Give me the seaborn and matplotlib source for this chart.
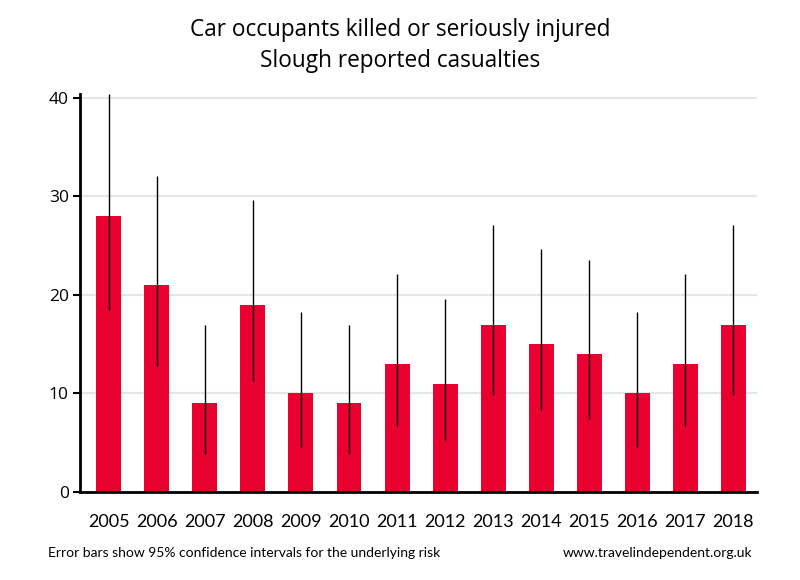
import seaborn as sns
import matplotlib.pyplot as plt
import pandas as pd

years = ['2005', '2006', '2007', '2008', '2009', '2010', '2011',
         '2012', '2013', '2014', '2015', '2016', '2017', '2018']
casualties = [28, 21, 9, 19, 10, 9, 13, 11, 17, 15, 14, 10, 13, 17]
ci_low = [18.5, 12.8, 3.9, 11.3, 4.6, 3.9, 6.7, 5.3, 9.8, 8.3, 7.4, 4.6, 6.7, 9.8]
ci_high = [40.4, 32.1, 17.0, 29.6, 18.3, 17.0, 22.1, 19.6, 27.1, 24.7, 23.5, 18.3, 22.1, 27.1]

df = pd.DataFrame({'Year': years, 'KSI': casualties})

sns.set_style('white')
plt.rcParams['font.family'] = ['Open Sans', 'DejaVu Sans']
plt.rcParams['text.color'] = 'black'
plt.rcParams['xtick.color'] = 'black'
plt.rcParams['ytick.color'] = 'black'

fig = plt.figure(figsize=(8, 5.8), dpi=100)
ax = fig.add_axes([0.1, 0.1517, 0.846, 0.6863])

ax.set_axisbelow(True)
ax.grid(axis='y', color='#e6e6e6', linewidth=1.5)
sns.barplot(data=df, x='Year', y='KSI', color='#e8002f', width=0.52,
            saturation=1, errorbar=None, linewidth=0, ax=ax)

lower = [c - lo for c, lo in zip(casualties, ci_low)]
upper = [hi - c for c, hi in zip(casualties, ci_high)]
ax.errorbar(range(len(years)), casualties, yerr=[lower, upper], fmt='none',
            ecolor='black', elinewidth=1, capsize=0)

ax.set_ylim(0, 40.4)
ax.set_xlim(-0.6, 13.49)
ax.set_yticks([0, 10, 20, 30, 40])
ax.set(xlabel='', ylabel='')
for side in ['top', 'right']:
    ax.spines[side].set_visible(False)
for side in ['left', 'bottom']:
    ax.spines[side].set_linewidth(2)
    ax.spines[side].set_color('black')
ax.tick_params(axis='y', which='major', left=True, length=5, width=1.5,
               labelsize=12.5, pad=3)
ax.tick_params(axis='x', bottom=False, labelsize=11.5, pad=12)
for lbl in ax.get_xticklabels():
    lbl.set_family(['Lato', 'DejaVu Sans'])
    lbl.set_fontsize(13)

fig.text(0.5, 0.948, 'Car occupants killed or seriously injured',
         ha='center', va='center', fontsize=16.3)
fig.text(0.5, 0.895, 'Slough reported casualties',
         ha='center', va='center', fontsize=16.3)
fig.text(0.06, 0.047, 'Error bars show 95% confidence intervals for the underlying risk',
         ha='left', va='center', fontsize=10, family=['Lato', 'DejaVu Sans'])
fig.text(0.94, 0.047, 'www.travelindependent.org.uk',
         ha='right', va='center', fontsize=10, family=['Lato', 'DejaVu Sans'])

plt.savefig('out.png', dpi=100)
